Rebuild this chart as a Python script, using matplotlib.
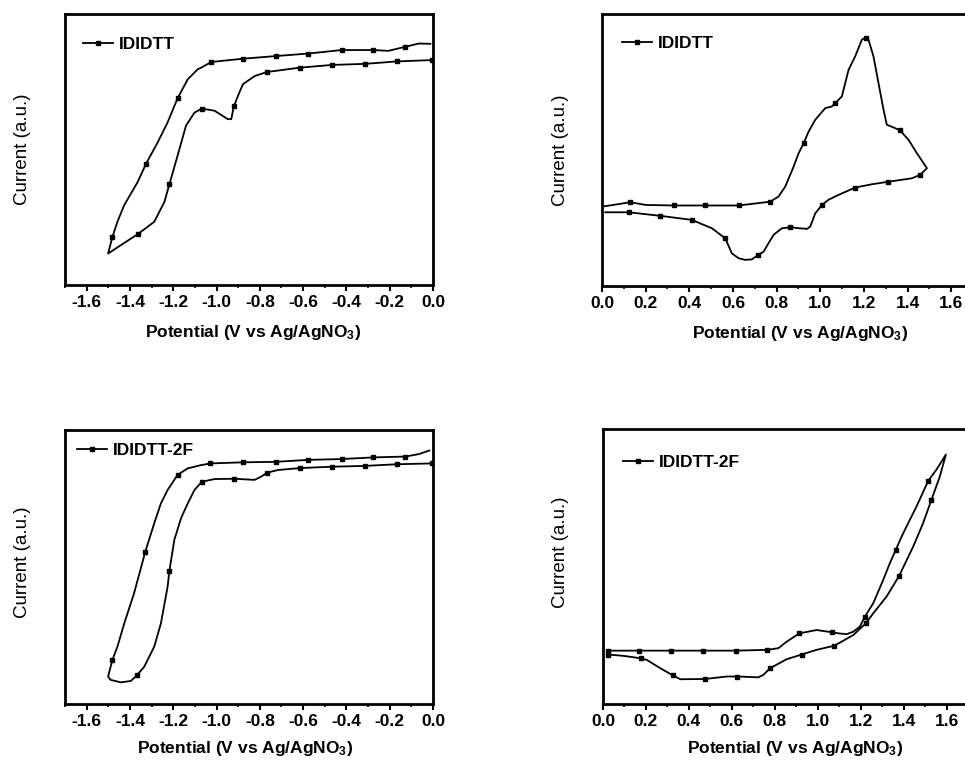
import matplotlib
matplotlib.use('Agg')
import matplotlib.pyplot as plt
from matplotlib.lines import Line2D
from matplotlib.ticker import MultipleLocator, FormatStrFormatter

plt.rcParams['font.family'] = ['Liberation Sans', 'DejaVu Sans']
plt.rcParams['font.weight'] = 'bold'
plt.rcParams['mathtext.fontset'] = 'custom'
plt.rcParams['mathtext.rm'] = 'Liberation Sans:bold'
plt.rcParams['mathtext.default'] = 'rm'

# ---- data (current in arbitrary units, 0..1 of the frame height) ----
# IDIDTT, reduction scan
red1_x = [-0.012, -0.066, -0.128, -0.206, -0.275, -0.422, -0.577, -0.723, -0.878,
          -1.024, -1.071, -1.087, -1.133, -1.180, -1.226, -1.272, -1.326, -1.365,
          -1.427, -1.458, -1.481, -1.501,
          -1.442, -1.365, -1.288, -1.241, -1.218, -1.180, -1.141, -1.102, -1.068,
          -1.009, -0.948, -0.932, -0.920, -0.901, -0.878, -0.824, -0.767, -0.615,
          -0.468, -0.314, -0.167, -0.005]
red1_y = [0.890, 0.891, 0.879, 0.864, 0.867, 0.867, 0.854, 0.845, 0.835,
          0.823, 0.802, 0.796, 0.759, 0.689, 0.600, 0.526, 0.447, 0.379,
          0.294, 0.233, 0.177, 0.116,
          0.147, 0.187, 0.233, 0.306, 0.371, 0.477, 0.588, 0.636, 0.651,
          0.643, 0.612, 0.612, 0.659, 0.698, 0.741, 0.771, 0.786, 0.802,
          0.812, 0.816, 0.825, 0.830]
red1_mx = [-1.481, -1.326, -1.180, -1.024, -0.878, -0.723, -0.577, -0.422, -0.275, -0.128,
           -1.365, -1.218, -1.068, -0.920, -0.767, -0.615, -0.468, -0.314, -0.167, -0.005]
red1_my = [0.177, 0.447, 0.689, 0.823, 0.835, 0.845, 0.854, 0.867, 0.867, 0.879,
           0.187, 0.371, 0.651, 0.659, 0.786, 0.802, 0.812, 0.816, 0.825, 0.830]

# IDIDTT, oxidation scan
ox1_x = [0.003, 0.130, 0.200, 0.328, 0.473, 0.626, 0.771, 0.809, 0.840, 0.878,
         0.901, 0.924, 0.947, 0.977, 1.023, 1.053, 1.069, 1.099, 1.130, 1.160,
         1.191, 1.206, 1.221, 1.244, 1.267, 1.290, 1.305, 1.344, 1.366, 1.405,
         1.443, 1.473, 1.489,
         1.458, 1.420, 1.310, 1.237, 1.160, 1.084, 1.038, 1.008, 0.977, 0.954,
         0.939, 0.908, 0.863, 0.824, 0.786, 0.763, 0.740, 0.715, 0.687, 0.656,
         0.626, 0.595, 0.565, 0.504, 0.412, 0.267, 0.122, 0.015]
ox1_y = [0.292, 0.308, 0.298, 0.296, 0.296, 0.296, 0.310, 0.329, 0.366, 0.439,
         0.488, 0.525, 0.568, 0.611, 0.654, 0.660, 0.672, 0.697, 0.795, 0.844,
         0.906, 0.912, 0.906, 0.844, 0.746, 0.648, 0.593, 0.580, 0.572, 0.537,
         0.488, 0.452, 0.433,
         0.409, 0.396, 0.383, 0.374, 0.362, 0.335, 0.317, 0.298, 0.267, 0.218,
         0.210, 0.212, 0.216, 0.212, 0.188, 0.157, 0.126, 0.114, 0.098, 0.096,
         0.102, 0.120, 0.175, 0.212, 0.243, 0.258, 0.271, 0.271]
ox1_mx = [0.130, 0.328, 0.473, 0.626, 0.771, 0.924, 1.069, 1.210, 1.366,
          1.458, 1.310, 1.160, 1.008, 0.863, 0.715, 0.565, 0.412, 0.267, 0.122]
ox1_my = [0.308, 0.296, 0.296, 0.296, 0.310, 0.525, 0.672, 0.910, 0.572,
          0.409, 0.383, 0.362, 0.298, 0.216, 0.114, 0.175, 0.243, 0.258, 0.271]

# IDIDTT-2F, reduction scan
red2_x = [-0.017, -0.066, -0.128, -0.275, -0.422, -0.577, -0.723, -0.878, -1.028,
          -1.071, -1.133, -1.180, -1.226, -1.257, -1.288, -1.329, -1.381, -1.424,
          -1.458, -1.481, -1.501,
          -1.489, -1.442, -1.396, -1.368, -1.334, -1.288, -1.257, -1.226, -1.218,
          -1.195, -1.164, -1.133, -1.102, -1.068, -1.009, -0.917, -0.824, -0.793,
          -0.767, -0.716, -0.615, -0.468, -0.314, -0.167, -0.005]
red2_y = [0.925, 0.912, 0.903, 0.900, 0.894, 0.891, 0.884, 0.882, 0.878,
          0.872, 0.860, 0.836, 0.781, 0.732, 0.659, 0.556, 0.404, 0.300,
          0.209, 0.161, 0.100,
          0.088, 0.079, 0.084, 0.105, 0.136, 0.209, 0.294, 0.428, 0.485,
          0.599, 0.678, 0.732, 0.781, 0.811, 0.821, 0.822, 0.818, 0.830,
          0.844, 0.854, 0.861, 0.866, 0.869, 0.875, 0.878]
red2_mx = [-1.481, -1.329, -1.180, -1.028, -0.878, -0.723, -0.577, -0.422, -0.275, -0.128,
           -1.368, -1.218, -1.068, -0.917, -0.767, -0.615, -0.468, -0.314, -0.167, -0.005]
red2_my = [0.161, 0.556, 0.836, 0.878, 0.882, 0.884, 0.891, 0.894, 0.900, 0.903,
           0.105, 0.485, 0.811, 0.822, 0.844, 0.861, 0.866, 0.869, 0.875, 0.878]

# IDIDTT-2F, oxidation scan
ox2_x = [0.022, 0.166, 0.316, 0.468, 0.619, 0.766, 0.817, 0.856, 0.915, 0.995,
         1.065, 1.096, 1.135, 1.166, 1.197, 1.220, 1.259, 1.305, 1.336, 1.364,
         1.391, 1.414, 1.460, 1.515, 1.553, 1.597,
         1.569, 1.530, 1.491, 1.445, 1.380, 1.321, 1.259, 1.225, 1.166, 1.078,
         0.995, 0.926, 0.856, 0.778, 0.747, 0.724, 0.626, 0.577, 0.476, 0.360,
         0.326, 0.267, 0.205, 0.178, 0.096, 0.022]
ox2_y = [0.194, 0.194, 0.194, 0.194, 0.194, 0.197, 0.203, 0.227, 0.257, 0.269,
         0.261, 0.257, 0.254, 0.263, 0.282, 0.318, 0.367, 0.451, 0.512, 0.561,
         0.609, 0.646, 0.718, 0.812, 0.852, 0.907,
         0.828, 0.743, 0.658, 0.573, 0.467, 0.391, 0.330, 0.294, 0.251, 0.212,
         0.197, 0.180, 0.163, 0.130, 0.106, 0.097, 0.100, 0.100, 0.091, 0.090,
         0.104, 0.130, 0.160, 0.166, 0.175, 0.180]
ox2_mx = [0.022, 0.166, 0.316, 0.468, 0.619, 0.766, 0.915, 1.065, 1.220, 1.364, 1.515,
          1.530, 1.380, 1.225, 1.078, 0.926, 0.778, 0.626, 0.476, 0.326, 0.178, 0.022]
ox2_my = [0.194, 0.194, 0.194, 0.194, 0.194, 0.197, 0.257, 0.261, 0.318, 0.561, 0.812,
          0.743, 0.467, 0.294, 0.212, 0.180, 0.130, 0.100, 0.091, 0.104, 0.166, 0.180]

labels = ['IDIDTT', 'IDIDTT', 'IDIDTT-2F', 'IDIDTT-2F']

fig = plt.figure(figsize=(9.65, 7.61), dpi=100)
W, H = 965.0, 761.0

# frames in pixel terms: left, top, right, bottom
frames = [(65, 14, 433, 285), (602, 14, 973, 286),
          (65, 430, 433, 704), (603, 429, 968, 704)]
xlims = [(-1.7, 0.0), (0.0, 1.7), (-1.7, 0.0), (0.0, 1.7)]
series = [(red1_x, red1_y, red1_mx, red1_my), (ox1_x, ox1_y, ox1_mx, ox1_my),
          (red2_x, red2_y, red2_mx, red2_my), (ox2_x, ox2_y, ox2_mx, ox2_my)]
leg_pos = [(0.049, 0.889), (0.054, 0.890), (0.033, 0.927), (0.055, 0.880)]
xlab_pos = [(0.511, -0.140), (0.534, -0.140), (0.490, -0.128), (0.525, -0.128)]
ylab_pos = [(-0.093, 0.5), (-0.090, 0.5), (-0.093, 0.518), (-0.093, 0.553)]

for i in range(4):
    l, t, r, b = frames[i]
    ax = fig.add_axes([l / W, 1 - b / H, (r - l) / W, (b - t) / H])
    x, y, mx, my = series[i]
    ax.plot(x, y, '-', color='black', lw=1.3)
    ax.plot(mx, my, 's', color='black', ms=3.5, lw=0)
    ax.set_xlim(*xlims[i])
    ax.set_ylim(0, 1)
    ax.set_yticks([])
    ax.xaxis.set_major_locator(MultipleLocator(0.2))
    ax.xaxis.set_minor_locator(MultipleLocator(0.1))
    ax.xaxis.set_major_formatter(FormatStrFormatter('%.1f'))
    ax.tick_params(axis='x', which='major', direction='out', length=4, width=1.5,
                   labelsize=12.5, pad=3)
    ax.tick_params(axis='x', which='minor', direction='out', length=2.5, width=1.2)
    for lab in ax.get_xticklabels():
        lab.set_fontweight('bold')
    for s in ax.spines.values():
        s.set_linewidth(2.0)

    ax.set_xlabel(r'Potential (V vs Ag/AgNO$_3$)', fontsize=12.5, fontweight='bold')
    ax.set_ylabel('Current (a.u.)', fontsize=13.5, fontweight='normal')
    ax.xaxis.set_label_coords(*xlab_pos[i])
    ax.yaxis.set_label_coords(*ylab_pos[i])

    handle = Line2D([], [], color='black', lw=1.3, marker='s', ms=3.5)
    ax.legend([handle], [labels[i]], loc='center left', bbox_to_anchor=leg_pos[i],
              frameon=False, borderpad=0, borderaxespad=0, handlelength=1.7,
              handletextpad=0.35, numpoints=1, prop={'size': 12.5, 'weight': 'bold'})

fig.savefig('out.png', dpi=100)
